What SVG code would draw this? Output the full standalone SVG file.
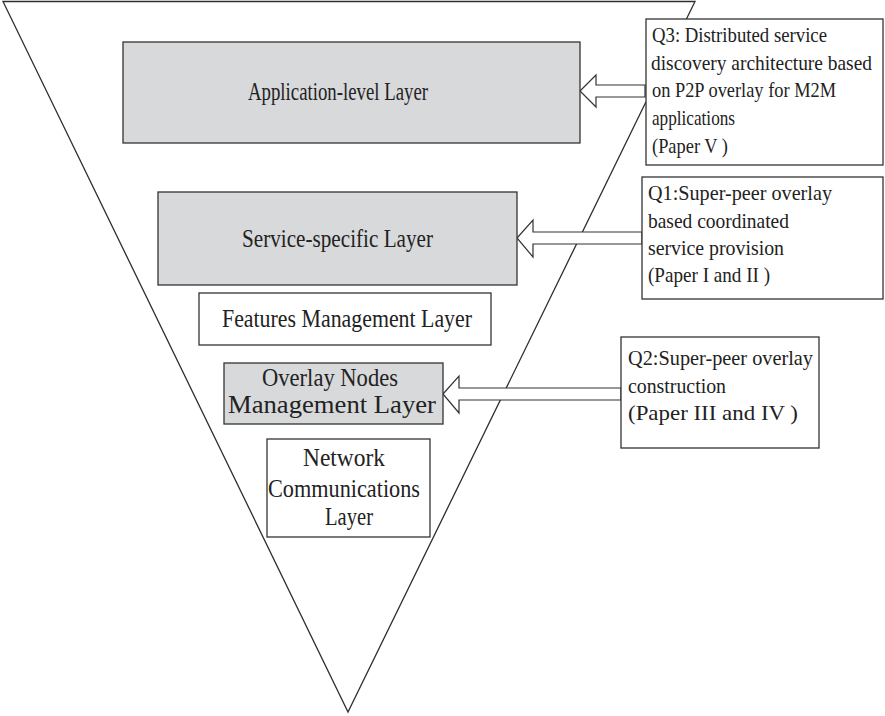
<svg xmlns="http://www.w3.org/2000/svg" width="885" height="716" viewBox="0 0 885 716">
<style>
.frame{fill:none;stroke:#2e2e2e;stroke-width:1.3;stroke-linejoin:miter}
.gray{fill:#d8d9da;stroke:#333;stroke-width:1.3}
.white{fill:#fff;stroke:#333;stroke-width:1.3}
.arrow{fill:#fff;stroke:#333;stroke-width:1.2;stroke-linejoin:miter}
.lbl{font-family:"Liberation Serif","Times New Roman",serif;font-size:25px;fill:#222}
.q{font-family:"Liberation Serif","Times New Roman",serif;font-size:21px;fill:#222}
</style>
<rect width="885" height="716" fill="#fff"/>
<g id="pyramid">
<path class="frame" d="M686.45,19 L695,1.5 H3 L348,712 L646,101.8"/>
</g>
<g id="connectors">
<polygon class="arrow" points="580,91 596,75 596,85 645,85 645,97 596,97 596,107"/>
<polygon class="arrow" points="517,238 533,220 533,232 642,232 642,244 533,244 533,257"/>
<polygon class="arrow" points="443,394 459,376 459,388 621,388 621,400 459,400 459,413"/>
</g>
<g id="app-layer">
<rect class="gray" x="123" y="42" width="457" height="101"/>
<text class="lbl" x="248" y="100" textLength="180" lengthAdjust="spacingAndGlyphs">Application-level Layer</text>
</g>
<g id="service-layer">
<rect class="gray" x="158" y="192" width="359" height="93"/>
<text class="lbl" x="242" y="247" textLength="191" lengthAdjust="spacingAndGlyphs">Service-specific Layer</text>
</g>
<g id="features-layer">
<rect class="white" x="199" y="293" width="292" height="52"/>
<text class="lbl" x="222" y="327" textLength="250" lengthAdjust="spacingAndGlyphs">Features Management Layer</text>
</g>
<g id="overlay-layer">
<rect class="gray" x="224" y="363" width="219" height="61"/>
<text class="lbl" x="262" y="386" textLength="136" lengthAdjust="spacingAndGlyphs">Overlay Nodes</text>
<text class="lbl" x="228" y="413" textLength="208" lengthAdjust="spacingAndGlyphs">Management Layer</text>
</g>
<g id="network-layer">
<rect class="white" x="267" y="439" width="163" height="98"/>
<text class="lbl" x="303" y="466" textLength="82" lengthAdjust="spacingAndGlyphs">Network</text>
<text class="lbl" x="268" y="497" textLength="152" lengthAdjust="spacingAndGlyphs">Communications</text>
<text class="lbl" x="325" y="525" textLength="48" lengthAdjust="spacingAndGlyphs">Layer</text>
</g>
<g id="q3">
<rect class="white" x="646" y="19" width="237" height="146"/>
<text class="q" x="652" y="42" textLength="175" lengthAdjust="spacingAndGlyphs">Q3: Distributed service</text>
<text class="q" x="651" y="70" font-size="20" textLength="221" lengthAdjust="spacingAndGlyphs">discovery architecture based</text>
<text class="q" x="652" y="97" textLength="184" lengthAdjust="spacingAndGlyphs">on P2P overlay for M2M</text>
<text class="q" x="652" y="125" textLength="83" lengthAdjust="spacingAndGlyphs">applications</text>
<text class="q" x="652" y="153" textLength="76" lengthAdjust="spacingAndGlyphs">(Paper V )</text>
</g>
<g id="q1">
<rect class="white" x="642" y="177" width="241" height="122"/>
<text class="q" x="648" y="200" textLength="184" lengthAdjust="spacingAndGlyphs">Q1:Super-peer overlay</text>
<text class="q" x="648" y="228" textLength="141" lengthAdjust="spacingAndGlyphs">based coordinated</text>
<text class="q" x="648" y="255" textLength="136" lengthAdjust="spacingAndGlyphs">service provision</text>
<text class="q" x="648" y="282" textLength="122" lengthAdjust="spacingAndGlyphs">(Paper I and II )</text>
</g>
<g id="q2">
<rect class="white" x="621" y="337" width="198" height="111"/>
<text class="q" x="628" y="365" textLength="185" lengthAdjust="spacingAndGlyphs">Q2:Super-peer overlay</text>
<text class="q" x="628" y="393" textLength="98" lengthAdjust="spacingAndGlyphs">construction</text>
<text class="q" x="628" y="420" textLength="170" lengthAdjust="spacingAndGlyphs">(Paper III and IV )</text>
</g>
</svg>
